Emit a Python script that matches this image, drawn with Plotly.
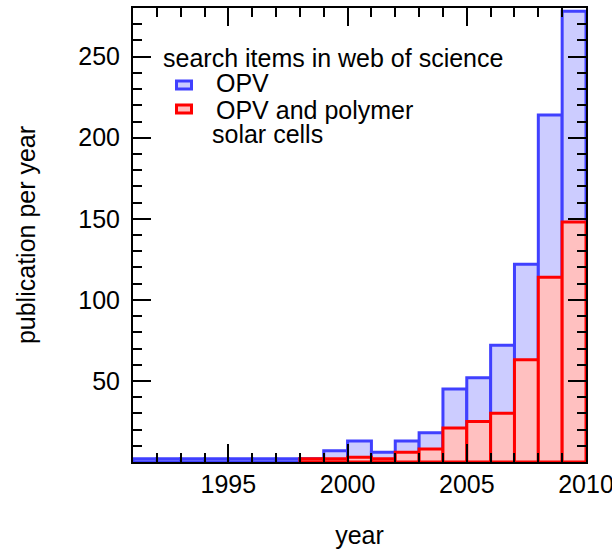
import plotly.graph_objects as go

# bins: each year's bin spans [year, year+1]
years_opv = list(range(1991, 2010))
opv = [2, 2, 2, 2, 2, 2, 2, 2, 7, 13, 6, 13, 18, 45, 52, 72, 122, 214, 278]

years_poly = list(range(1998, 2010))
opv_poly = [2, 2, 3, 2, 6, 8, 21, 25, 30, 63, 114, 148]

y_tickvals = [50, 100, 150, 200, 250]
x_tickvals = [1995, 2000, 2005, 2010]

legend_title = "search items in web of science"
legend_names = ["OPV", "OPV and polymer", "solar cells"]

FONT = "Liberation Sans, Arial, Helvetica, sans-serif"
FS = 25
BLUE_FILL, BLUE_LINE = "rgb(204,204,255)", "rgb(64,64,255)"
RED_FILL, RED_LINE = "rgb(255,192,192)", "rgb(255,0,0)"

W, H = 612, 549
ML, MR, MT, MB = 133, 26, 8, 87
PW, PH = W - ML - MR, H - MT - MB


def px(x):
    return (x - ML) / PW


def py(y):
    return (H - MB - y) / PH


fig = go.Figure()
fig.add_trace(go.Bar(
    x=[y + 0.5 for y in years_opv], y=opv, width=1,
    name=legend_names[0],
    marker=dict(color=BLUE_FILL, line=dict(color=BLUE_LINE, width=3)),
))
fig.add_trace(go.Bar(
    x=[y + 0.5 for y in years_poly], y=opv_poly, width=1,
    name=legend_names[1] + " " + legend_names[2],
    marker=dict(color=RED_FILL, line=dict(color=RED_LINE, width=3)),
))

axis_common = dict(
    showline=True, linecolor="black", linewidth=2, mirror="allticks",
    ticks="inside", ticklen=18, tickwidth=1.5, tickcolor="black",
    showgrid=False, zeroline=False, automargin=False, layer="above traces",
    ticklabeloverflow="allow",
    tickfont=dict(family=FONT, size=FS, color="black"),
)

fig.update_xaxes(
    range=[1991, 2010], tickmode="array", tickvals=x_tickvals,
    minor=dict(tickmode="linear", tick0=1991, dtick=1, ticks="inside", ticklen=9, tickwidth=1.5, tickcolor="black"),
    title=dict(text="year", font=dict(family=FONT, size=FS, color="black"), standoff=31),
    ticklabelstandoff=-1,
    **axis_common,
)
fig.update_yaxes(
    range=[0, 280], tickmode="array", tickvals=y_tickvals,
    minor=dict(tickmode="linear", tick0=0, dtick=10, ticks="inside", ticklen=9, tickwidth=1.5, tickcolor="black"),
    title=dict(text="publication per year", font=dict(family=FONT, size=FS, color="black"), standoff=36),
    ticklabelstandoff=6,
    **axis_common,
)

# custom legend (text + swatches) placed inside the plot area
ann = [
    (legend_title, 161, 57.5),
    (legend_names[0], 214, 83),
    (legend_names[1], 214, 109.5),
    (legend_names[2], 209.5, 134),
]
for text, x, y in ann:
    fig.add_annotation(
        text=text, x=px(x), y=py(y), xref="paper", yref="paper",
        xanchor="left", yanchor="middle", showarrow=False,
        font=dict(family=FONT, size=FS, color="black"),
    )

for (fill, line, y0, y1) in [(BLUE_FILL, BLUE_LINE, 81, 89), (RED_FILL, RED_LINE, 105, 113)]:
    fig.add_shape(
        type="rect", xref="paper", yref="paper",
        x0=px(176.5), x1=px(191.5), y0=py(y1), y1=py(y0),
        fillcolor=fill, line=dict(color=line, width=3),
    )

fig.update_layout(
    width=W, height=H,
    margin=dict(l=ML, r=MR, t=MT, b=MB),
    paper_bgcolor="white", plot_bgcolor="white",
    barmode="overlay",
    font=dict(family=FONT, size=FS, color="black"),
    showlegend=False,
)

fig.write_html("out.html")
